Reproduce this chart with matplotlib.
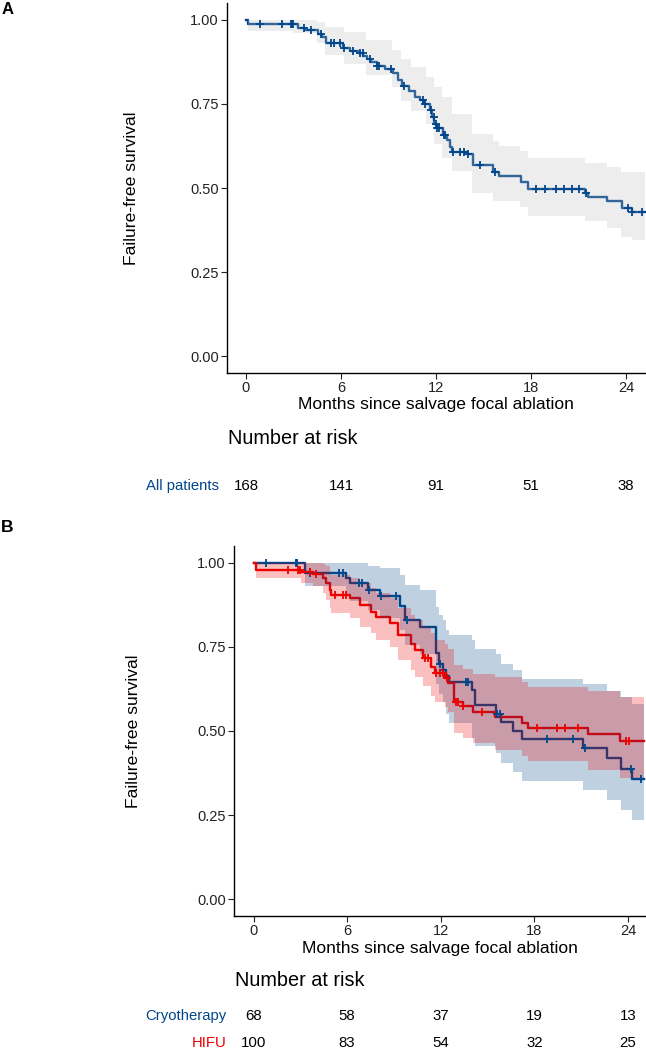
import numpy as np
import matplotlib
matplotlib.use("Agg")
import matplotlib.pyplot as plt
from matplotlib.transforms import blended_transform_factory

plt.rcParams['font.family'] = ['Liberation Sans', 'DejaVu Sans']

W, H = 646, 1050
BLUE = '#00468B'
RED = '#ED0000'

months = [0, 6, 12, 18, 24]
surv_ticks = [0.0, 0.25, 0.5, 0.75, 1.0]
surv_labels = ['0.00', '0.25', '0.50', '0.75', '1.00']

# panel A - all patients
all_t = [0, 0.15, 3.3, 3.73, 4.57, 4.78, 5.03, 6.15, 6.57, 7.09, 7.41, 7.66, 7.87, 8.25,
         8.78, 9.31, 9.62, 9.83, 10.32, 10.67, 10.99, 11.26, 11.62, 11.77, 11.89, 12.08,
         12.46, 12.67, 12.88, 12.99, 13.94, 14.32, 15.62, 15.98, 17.35, 17.83, 21.41,
         21.62, 22.78, 23.73, 24.36]
all_s = [1.0, 0.987, 0.977, 0.969, 0.958, 0.950, 0.930, 0.916, 0.908, 0.900, 0.893, 0.884,
         0.874, 0.864, 0.854, 0.841, 0.822, 0.802, 0.788, 0.772, 0.762, 0.750, 0.731, 0.711,
         0.691, 0.677, 0.657, 0.642, 0.622, 0.608, 0.600, 0.568, 0.548, 0.536, 0.519, 0.498,
         0.486, 0.474, 0.4625, 0.440, 0.428]
all_cens = [0.88, 2.25, 2.84, 2.92, 2.99, 3.66, 4.10, 4.72, 5.35, 5.56, 5.94, 6.20, 6.78,
            7.20, 7.37, 7.83, 8.30, 8.40, 9.14, 10.0, 11.2, 11.3, 11.66, 11.87, 11.98, 12.08,
            12.2, 12.5, 12.6, 13.1, 13.5, 13.8, 14.0, 14.8, 15.7, 18.3, 18.9, 19.6, 20.1,
            20.6, 21.05, 21.5, 24.15, 24.36, 25.0]
all_band_t = [0, 0.15, 3.0, 4.5, 5.0, 6.2, 7.6, 9.2, 9.8, 10.4, 11.4, 11.9, 12.4, 13.0,
              14.3, 15.6, 16.0, 17.3, 17.8, 21.4, 22.8, 23.7, 24.4]
all_band_lo = [1.0, 0.968, 0.96, 0.93, 0.895, 0.87, 0.835, 0.80, 0.76, 0.73, 0.69, 0.63,
               0.59, 0.55, 0.484, 0.46, 0.46, 0.445, 0.417, 0.403, 0.381, 0.355, 0.344]
all_band_hi = [1.0, 1.0, 1.0, 0.995, 0.98, 0.965, 0.94, 0.91, 0.885, 0.86, 0.83, 0.80,
               0.77, 0.72, 0.66, 0.64, 0.625, 0.61, 0.59, 0.573, 0.563, 0.548, 0.548]
all_risk = [168, 141, 91, 51, 38]

# panel B - cryotherapy
cryo_t = [0, 3.27, 5.95, 6.16, 7.34, 8.09, 9.41, 9.69, 10.65, 11.68, 11.87, 12.15, 12.36,
          12.53, 14.03, 14.18, 15.53, 15.89, 16.64, 17.24, 21.13, 22.67, 23.53, 24.24]
cryo_s = [1.0, 0.970, 0.954, 0.939, 0.919, 0.901, 0.872, 0.830, 0.810, 0.731, 0.700, 0.680,
          0.665, 0.647, 0.622, 0.577, 0.551, 0.528, 0.501, 0.475, 0.448, 0.419, 0.387, 0.356]
cryo_lo = [1.0, 0.93, 0.905, 0.885, 0.86, 0.835, 0.80, 0.755, 0.73, 0.64, 0.61, 0.585, 0.55,
           0.525, 0.48, 0.455, 0.434, 0.404, 0.379, 0.35, 0.325, 0.295, 0.265, 0.236]
cryo_hi = [1.0, 1.0, 1.0, 1.0, 0.99, 0.985, 0.965, 0.935, 0.92, 0.87, 0.845, 0.83, 0.80,
           0.785, 0.77, 0.745, 0.73, 0.70, 0.68, 0.655, 0.64, 0.62, 0.60, 0.58]
cryo_cens = [0.77, 2.74, 2.78, 3.59, 5.48, 5.73, 6.76, 6.97, 7.40, 8.19, 9.11, 9.86, 11.98,
             12.15, 13.60, 13.77, 15.61, 15.79, 18.82, 20.45, 21.24, 24.17, 24.83]
cryo_risk = [68, 58, 37, 19, 13]

# panel B - HIFU
hifu_t = [0, 0.13, 3.06, 3.81, 4.45, 4.66, 4.88, 4.98, 6.16, 6.80, 7.55, 7.87, 8.73, 9.26,
          10.12, 10.33, 10.87, 11.40, 11.62, 12.26, 12.47, 12.83, 13.43, 14.07, 15.47, 17.24,
          17.60, 21.45, 23.49]
hifu_s = [1.0, 0.98, 0.973, 0.968, 0.954, 0.939, 0.919, 0.904, 0.894, 0.874, 0.855, 0.840,
          0.820, 0.785, 0.760, 0.741, 0.716, 0.691, 0.671, 0.657, 0.642, 0.587, 0.574, 0.557,
          0.542, 0.525, 0.508, 0.490, 0.471]
hifu_lo = [1.0, 0.955, 0.94, 0.93, 0.91, 0.89, 0.865, 0.85, 0.835, 0.81, 0.79, 0.77, 0.75,
           0.71, 0.68, 0.66, 0.635, 0.605, 0.585, 0.57, 0.555, 0.495, 0.48, 0.465, 0.445,
           0.425, 0.41, 0.385, 0.36]
hifu_hi = [1.0, 1.0, 1.0, 1.0, 0.995, 0.99, 0.975, 0.965, 0.955, 0.94, 0.925, 0.91, 0.895,
           0.865, 0.845, 0.83, 0.81, 0.79, 0.77, 0.76, 0.745, 0.695, 0.685, 0.67, 0.66,
           0.645, 0.63, 0.62, 0.60]
hifu_cens = [2.20, 2.84, 2.95, 3.59, 4.02, 5.20, 5.73, 5.95, 10.97, 11.19, 11.72, 11.94,
             12.15, 12.43, 12.96, 13.11, 13.43, 14.67, 18.18, 19.47, 19.96, 20.81, 23.91, 24.09]
hifu_risk = [100, 83, 54, 32, 25]


def px(x, y):
    return x / W, 1 - y / H


def step_at(t, s, x):
    idx = np.searchsorted(t, x, side='right') - 1
    return np.asarray(s)[idx]


def draw_curve(ax, t, s, t_end, color):
    ax.step(list(t) + [t_end], list(s) + [s[-1]], where='post', color=color, lw=1.7, zorder=2)


def draw_band(ax, t, lo, hi, t_end, color, alpha):
    ax.fill_between(list(t) + [t_end], list(lo) + [lo[-1]], list(hi) + [hi[-1]],
                    step='post', color=color, alpha=alpha, lw=0, zorder=3)


def draw_censor(ax, t, s, cens, color):
    ax.plot(cens, step_at(t, s, cens), ls='none', marker='+', ms=5.5, mew=1.3,
            color=color, zorder=4)


def style_axes(ax, xlim):
    ax.set_xlim(*xlim)
    ax.set_ylim(-0.05, 1.05)
    ax.set_xticks(months)
    ax.set_yticks(surv_ticks)
    ax.set_yticklabels(surv_labels)
    ax.spines['top'].set_visible(False)
    ax.spines['right'].set_visible(False)
    for sp in ['left', 'bottom']:
        ax.spines[sp].set_linewidth(1.0)
        ax.spines[sp].set_color('black')
    ax.tick_params(length=4, width=0.8, labelsize=10.5, pad=2, colors='#222222')


def risk_row(fig, ax, y, label, values, color):
    trans = blended_transform_factory(ax.transData, fig.transFigure)
    for m, n in zip(months, values):
        ax.text(m, 1 - y / H, str(n), transform=trans, ha='center', va='center',
                fontsize=10.8, clip_on=False)
    x0 = ax.get_position().x0 - 7.5 / W
    fig.text(x0, 1 - y / H, label, ha='right', va='center', fontsize=10.7, color=color)


fig = plt.figure(figsize=(W / 100, H / 100), dpi=100)

# ---- panel A
axA = fig.add_axes([227 / W, 1 - 373 / H, 419 / W, 370 / H])
draw_curve(axA, all_t, all_s, 25.2, BLUE)
draw_band(axA, all_band_t, all_band_lo, all_band_hi, 25.2, '#BEBEBE', 0.27)
draw_censor(axA, all_t, all_s, all_cens, BLUE)
style_axes(axA, (-1.2, 25.27))
fig.text(*px(8, 9), 'A', fontsize=12, fontweight='bold', ha='center', va='center')
fig.text(*px(132, 188), 'Failure-free survival', rotation=90, fontsize=12.6,
         ha='center', va='center')
fig.text(*px(436, 405), 'Months since salvage focal ablation', fontsize=12.6,
         ha='center', va='center')
fig.text(*px(228, 438), 'Number at risk', fontsize=14.3, ha='left', va='center')
risk_row(fig, axA, 486, 'All patients', all_risk, BLUE)

# ---- panel B
axB = fig.add_axes([234 / W, 1 - 916 / H, 412 / W, 370 / H])
draw_curve(axB, cryo_t, cryo_s, 25.0, BLUE)
draw_curve(axB, hifu_t, hifu_s, 25.0, RED)
draw_band(axB, cryo_t, cryo_lo, cryo_hi, 25.0, BLUE, 0.25)
draw_band(axB, hifu_t, hifu_lo, hifu_hi, 25.0, RED, 0.25)
draw_censor(axB, cryo_t, cryo_s, cryo_cens, BLUE)
draw_censor(axB, hifu_t, hifu_s, hifu_cens, RED)
style_axes(axB, (-1.25, 25.16))
fig.text(*px(7, 528), 'B', fontsize=12.5, fontweight='bold', ha='center', va='center')
fig.text(*px(133, 731), 'Failure-free survival', rotation=90, fontsize=12.6,
         ha='center', va='center')
fig.text(*px(440, 948), 'Months since salvage focal ablation', fontsize=12.6,
         ha='center', va='center')
fig.text(*px(235, 980), 'Number at risk', fontsize=14.3, ha='left', va='center')
risk_row(fig, axB, 1016, 'Cryotherapy', cryo_risk, BLUE)
risk_row(fig, axB, 1043, 'HIFU', hifu_risk, RED)

fig.savefig('out.png', dpi=100)
